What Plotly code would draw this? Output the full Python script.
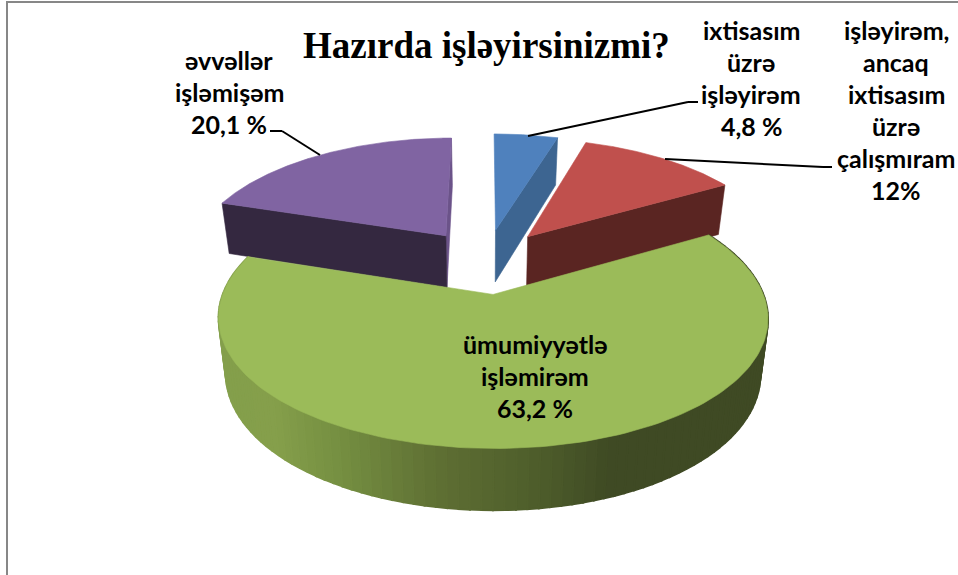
import numpy as np
import plotly.graph_objects as go

# --- data ---
title_text = "Hazırda işləyirsinizmi?"
values = [4.8, 12, 63.2, 20.1]
label_lines = [
    ["ixtisasım", "üzrə", "işləyirəm", "4,8 %"],
    ["işləyirəm,", "ancaq", "ixtisasım", "üzrə", "çalışmıram", "12%"],
    ["ümumiyyətlə", "işləmirəm", "63,2 %"],
    ["əvvəllər", "işləmişəm", "20,1 %"],
]
top_colors = ["#4f81bd", "#c0504d", "#9bbb59", "#8064a2"]
wall_colors = ["#3d6591", "#5a2522", None, "#342840"]

# --- view of the tilted pie (u to the right, v away from the viewer) ---
EXPLODE = 0.27
KX = 0.17
KY = 0.151
TOP = dict(cx=485.5, cy=261, A=258, B=119.5)
BOT = dict(cx=485.5, cy=314, A=251, B=125)


def project(u, v, view):
    return (view["cx"] + view["A"] * u / (1 + KX * v),
            view["cy"] - view["B"] * v / (1 + KY * v))


fractions = np.array(values) / sum(values)
edges = np.concatenate([[0], np.cumsum(fractions)]) * 2 * np.pi


def slice_geometry(i, n=160):
    a0, a1 = edges[i], edges[i + 1]
    mid = (a0 + a1) / 2
    du, dv = EXPLODE * np.sin(mid), EXPLODE * np.cos(mid)
    th = np.linspace(a0, a1, n)
    return th, du, dv


fig = go.Figure()


def poly(x, y, color, lw=0.6):
    fig.add_trace(go.Scatter(
        x=list(x), y=list(y), mode="lines", fill="toself", fillcolor=color,
        line=dict(color=color, width=lw), hoverinfo="skip", showlegend=False))


def cut_wall(i, angle, color):
    _, du, dv = slice_geometry(i)
    ou, ov = du + np.sin(angle), dv + np.cos(angle)
    x1, y1 = project(du, dv, TOP)
    x2, y2 = project(ou, ov, TOP)
    x3, y3 = project(ou, ov, BOT)
    x4, y4 = project(du, dv, BOT)
    poly([x1, x2, x3, x4, x1], [y1, y2, y3, y4, y1], color)


def top_face(i):
    th, du, dv = slice_geometry(i)
    ux = np.concatenate([[du], du + np.sin(th), [du]])
    vy = np.concatenate([[dv], dv + np.cos(th), [dv]])
    x, y = project(ux, vy, TOP)
    poly(x, y, top_colors[i])


GRAD_X = [225, 270, 335, 435, 545, 611, 770]
GRAD_R = [0x84, 0x86, 0x76, 0x5f, 0x4d, 0x3f, 0x3f]
GRAD_G = [0x9f, 0xa0, 0x90, 0x70, 0x5c, 0x4a, 0x4a]
GRAD_B = [0x4c, 0x4b, 0x42, 0x34, 0x2b, 0x24, 0x24]


def green_side(i, n=110):
    th, du, dv = slice_geometry(i, n + 1)
    ux, vy = du + np.sin(th), dv + np.cos(th)
    xt, yt = project(ux, vy, TOP)
    xb, yb = project(ux, vy, BOT)
    for k in range(n):
        xm = (xt[k] + xt[k + 1]) / 2
        c = "rgb(%d,%d,%d)" % (np.interp(xm, GRAD_X, GRAD_R),
                               np.interp(xm, GRAD_X, GRAD_G),
                               np.interp(xm, GRAD_X, GRAD_B))
        poly([xt[k], xt[k + 1], xb[k + 1], xb[k], xt[k]],
             [yt[k], yt[k + 1], yb[k + 1], yb[k], yt[k]], c, lw=2)


# back slices first, front slice last
cut_wall(0, edges[1], wall_colors[0])
top_face(0)
cut_wall(1, edges[2], wall_colors[1])
top_face(1)
cut_wall(3, edges[4], "#6b5389")
cut_wall(3, edges[3], wall_colors[3])
top_face(3)
green_side(2)
top_face(2)

annotations = [dict(x=486, y=45, text=title_text, showarrow=False,
                    font=dict(family="Liberation Serif", size=37, color="black", weight="bold"))]
label_pos = [(751, 30), (896, 30), (535, 344), (229, 60)]
for lines, (lx, ly) in zip(label_lines, label_pos):
    for j, t in enumerate(lines):
        annotations.append(dict(x=lx, y=ly + j * 32, text=t, showarrow=False,
                                font=dict(family="Lato", size=25, color="black", weight="bold")))

leaders = [
    [(528, 136), (688, 102), (698, 102)],
    [(665, 159), (823, 167), (832, 167)],
    [(320, 155), (282, 131), (270, 131)],
]
shapes = [
    dict(type="line", x0=7, x1=7, y0=2, y1=575, line=dict(color="#878787", width=2)),
    dict(type="line", x0=6, x1=958, y0=2, y1=2, line=dict(color="#878787", width=2)),
]
for pts in leaders:
    for (x0, y0), (x1, y1) in zip(pts[:-1], pts[1:]):
        shapes.append(dict(type="line", x0=x0, y0=y0, x1=x1, y1=y1,
                           line=dict(color="black", width=2)))

fig.update_layout(
    width=958, height=575, margin=dict(l=0, r=0, t=0, b=0),
    paper_bgcolor="white", plot_bgcolor="white", showlegend=False,
    xaxis=dict(range=[0, 958], visible=False, fixedrange=True),
    yaxis=dict(range=[575, 0], visible=False, fixedrange=True),
    annotations=annotations, shapes=shapes,
)
fig.write_html("out.html", config=dict(displayModeBar=False),
               post_script="document.body.style.margin='0';document.body.style.overflow='hidden';")
